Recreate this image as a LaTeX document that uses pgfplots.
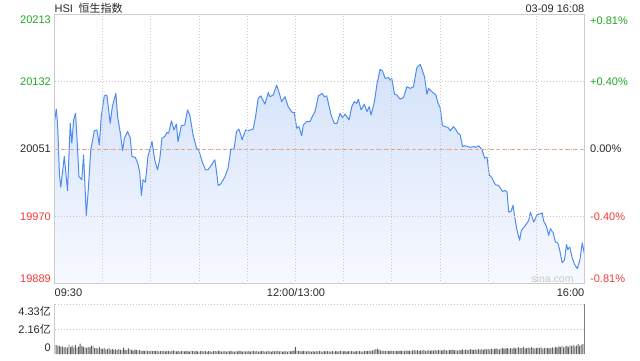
\documentclass[border=0pt]{standalone}
\usepackage{pgfplots}
\usepackage{pgfplotstable}
\pgfplotsset{compat=1.18}
\usepackage{fontspec}
\setmainfont{Liberation Sans}
\newfontfamily\cjk{Noto Sans CJK SC}
\definecolor{framec}{RGB}{204,204,204}
\definecolor{gridc}{RGB}{200,200,200}
\definecolor{linec}{RGB}{78,140,240}
\definecolor{prevc}{RGB}{236,150,105}
\definecolor{upc}{RGB}{34,168,34}
\definecolor{downc}{RGB}{240,58,58}
\definecolor{txtc}{RGB}{40,40,40}
\definecolor{volc}{RGB}{95,95,95}
\definecolor{areatop}{RGB}{212,226,250}
\definecolor{areabot}{RGB}{247,249,255}
\pgfplotstableread{
m v
0 20084
1.1 20099
1.9 20082
3.1 20020
3.9 20005
6.1 20042
8.1 20001
9.8 20082
10.8 20058
11.9 20086
13.1 20094
14.3 20054
15.2 20018
17.0 20014
18.1 20044
19.8 19971
21.0 20001
22.6 20050
24.8 20073
26.4 20074
27.9 20056
29.1 20090
31.0 20115
32.6 20116
34.7 20082
36.0 20102
38.2 20118
39.3 20090
41.0 20070
42.4 20049
43.5 20064
45.5 20072
47.2 20064
48.2 20042
50.3 20041
51.8 20034
53.0 20024
54.1 19995
55.1 20014
56.6 20011
58.2 20042
60.7 20060
62.4 20038
64.1 20026
65.5 20038
66.9 20064
68.6 20066
70.1 20071
71.1 20070
72.8 20085
74.4 20074
75.9 20081
76.9 20060
79.0 20079
81.1 20080
82.8 20098
84.2 20092
86.3 20068
88.4 20052
89.8 20050
91.9 20036
94.0 20026
95.6 20026
97.8 20032
99.8 20038
100.6 20028
101.9 20007
103.5 20009
106.0 20017
108.1 20028
109.8 20051
111.8 20051
113.3 20072
114.8 20075
116.0 20068
116.8 20062
119.0 20074
120.6 20073
123.7 20075
125.2 20090
126.8 20112
128.5 20115
131.0 20105
133.1 20119
134.1 20114
136.2 20116
138.3 20128
139.7 20120
141.4 20108
143.5 20114
145.5 20102
148.0 20095
149.3 20095
150.8 20076
152.2 20078
153.9 20067
154.9 20080
157.0 20084
159.1 20084
160.5 20090
162.2 20096
164.3 20115
166.7 20118
168.0 20114
169.5 20115
172.2 20092
174.2 20082
175.9 20082
177.8 20094
179.2 20089
180.9 20093
183.4 20086
185.1 20102
186.7 20108
188.2 20106
189.2 20111
190.9 20098
192.9 20105
194.6 20096
195.9 20102
197.1 20092
199.2 20108
200.7 20128
202.7 20147
204.2 20145
205.9 20136
207.9 20137
209.0 20134
210.0 20136
211.7 20117
213.2 20116
215.2 20111
217.3 20113
219.4 20126
221.5 20124
223.5 20126
225.6 20149
227.7 20153
230.4 20138
231.9 20117
232.9 20124
235.0 20120
237.5 20116
238.7 20107
240.2 20100
241.6 20079
243.3 20078
245.0 20077
246.4 20073
248.5 20078
250.0 20074
251.2 20070
252.6 20068
254.1 20054
255.3 20055
257.4 20054
258.9 20053
260.9 20054
262.4 20053
264.1 20055
266.2 20050
267.8 20040
269.3 20041
270.7 20020
272.4 20016
274.5 20008
276.5 20007
279.0 20000
280.7 20001
281.8 19999
282.8 19975
284.3 19976
285.5 19983
286.9 19965
288.0 19953
289.6 19941
290.7 19953
293.2 19959
295.3 19965
296.3 19975
298.4 19963
300.5 19972
302.5 19973
303.6 19974
304.6 19964
306.3 19958
307.7 19947
308.8 19955
310.5 19950
311.9 19939
313.4 19938
314.6 19929
316.1 19914
317.5 19917
318.8 19936
319.6 19930
320.8 19933
322.3 19920
323.8 19912
325.5 19907
327.1 19917
328.6 19938
330 19924
}\pricedata
\pgfplotstableread{
m v
0 19889
}\areadata
\pgfplotstableread{
m v
330 19889
}\areaend
\pgfplotstablevertcat{\areadata}{\pricedata}
\pgfplotstablevertcat{\areadata}{\areaend}
\begin{document}
\begin{tikzpicture}[lab/.style={inner sep=0pt, font=\fontsize{11}{13}\selectfont}]
\useasboundingbox (0pt,0pt) rectangle (640pt,360pt);
\begin{axis}[
  at={(54.5pt,76.5pt)}, anchor=south west, scale only axis,
  width=530pt, height=269pt,
  xmin=0, xmax=330, ymin=19889, ymax=20213,
  xtick={0,30,...,330}, ytick={19889,19970,20051,20132,20213},
  xticklabels={}, yticklabels={}, major tick length=0pt,
  scaled x ticks=false, scaled y ticks=false,
  grid=major, grid style={gridc, dash pattern=on 1pt off 2pt, line width=0.8pt},
  axis line style={framec, line width=0.8pt},
  axis on top,
]
\addplot[top color=areatop, bottom color=areabot, draw=none] table[x=m, y=v] {\areadata};
\addplot[prevc, dash pattern=on 4pt off 3pt, line width=0.9pt] coordinates {(0,20051) (330,20051)};
\addplot[linec, line width=1pt, line join=round] table[x=m, y=v] {\pricedata};
\end{axis}
\begin{axis}[
  at={(54.5pt,6pt)}, anchor=south west, scale only axis,
  width=530pt, height=50pt,
  xmin=0, xmax=330, ymin=0, ymax=4.33,
  xtick=\empty, ytick=\empty, axis line style={draw=none},
  scaled x ticks=false, scaled y ticks=false,
  enlargelimits=false, clip=false,
]
\addplot[gridc, dash pattern=on 1pt off 2pt, line width=0.8pt] coordinates {(0,4.33) (330,4.33)};
\addplot[gridc, dash pattern=on 1pt off 2pt, line width=0.8pt] coordinates {(0,2.16) (330,2.16)};
\addplot[ybar, bar width=0.9pt, bar shift=0pt, fill=volc, draw=none] coordinates {
(0,2.50) (1,0.78) (2,0.72) (3,0.70) (4,0.62) (5,0.66) (6,0.58) (7,0.60) (8,0.55) (9,0.82)
(10,0.60) (11,0.72) (12,0.58) (13,0.78) (14,0.56) (15,0.64) (16,0.90) (17,0.70) (18,0.62) (19,0.58)
(20,0.55) (21,0.62) (22,0.58) (23,0.72) (24,0.68) (25,0.52) (26,0.50) (27,0.48) (28,0.60) (29,0.46)
(30,0.44) (31,0.52) (32,0.40) (33,0.42) (34,0.48) (35,0.38) (36,0.45) (37,0.36) (38,0.40) (39,0.35)
(40,0.42) (41,0.38) (42,0.34) (43,0.55) (44,0.36) (45,0.33) (46,0.48) (47,0.40) (48,0.35) (49,0.30)
(50,0.38) (51,0.33) (52,0.30) (53,0.36) (54,0.28) (55,0.30) (56,0.26) (57,0.32) (58,0.28) (59,0.25)
(60,0.30) (61,0.26) (62,0.24) (63,0.28) (64,0.30) (65,0.22) (66,0.26) (67,0.24) (68,0.30) (69,0.22)
(70,0.25) (71,0.28) (72,0.22) (73,0.24) (74,0.32) (75,0.26) (76,0.22) (77,0.25) (78,0.20) (79,0.24)
(80,0.28) (81,0.22) (82,0.26) (83,0.24) (84,0.21) (85,0.30) (86,0.25) (87,0.22) (88,0.27) (89,0.23)
(90,0.20) (91,0.24) (92,0.26) (93,0.22) (94,0.28) (95,0.21) (96,0.25) (97,0.23) (98,0.20) (99,0.26)
(100,0.24) (101,0.22) (102,0.30) (103,0.25) (104,0.21) (105,0.23) (106,0.26) (107,0.20) (108,0.24) (109,0.22)
(110,0.27) (111,0.23) (112,0.20) (113,0.25) (114,0.22) (115,0.28) (116,0.24) (117,0.21) (118,0.26) (119,0.23)
(120,0.22) (121,0.25) (122,0.20) (123,0.24) (124,0.27) (125,0.22) (126,0.25) (127,0.21) (128,0.23) (129,0.26)
(130,0.24) (131,0.20) (132,0.22) (133,0.28) (134,0.23) (135,0.21) (136,0.25) (137,0.22) (138,0.24) (139,0.27)
(140,0.22) (141,0.25) (142,0.20) (143,0.23) (144,0.26) (145,0.21) (146,0.24) (147,0.22) (148,0.28) (149,0.30)
(150,0.62) (151,0.30) (152,0.26) (153,0.24) (154,0.22) (155,0.28) (156,0.25) (157,0.22) (158,0.26) (159,0.23)
(160,0.21) (161,0.24) (162,0.20) (163,0.25) (164,0.22) (165,0.27) (166,0.23) (167,0.21) (168,0.24) (169,0.22)
(170,0.26) (171,0.22) (172,0.20) (173,0.24) (174,0.21) (175,0.25) (176,0.23) (177,0.22) (178,0.27) (179,0.24)
(180,0.22) (181,0.25) (182,0.21) (183,0.24) (184,0.22) (185,0.26) (186,0.23) (187,0.20) (188,0.24) (189,0.22)
(190,0.25) (191,0.23) (192,0.21) (193,0.24) (194,0.28) (195,0.26) (196,0.30) (197,0.27) (198,0.32) (199,0.35)
(200,0.42) (201,0.45) (202,0.38) (203,0.32) (204,0.28) (205,0.30) (206,0.26) (207,0.28) (208,0.25) (209,0.27)
(210,0.30) (211,0.26) (212,0.24) (213,0.28) (214,0.25) (215,0.27) (216,0.30) (217,0.26) (218,0.28) (219,0.32)
(220,0.28) (221,0.30) (222,0.26) (223,0.32) (224,0.35) (225,0.30) (226,0.34) (227,0.28) (228,0.32) (229,0.30)
(230,0.33) (231,0.28) (232,0.30) (233,0.35) (234,0.29) (235,0.32) (236,0.30) (237,0.36) (238,0.30) (239,0.33)
(240,0.36) (241,0.30) (242,0.34) (243,0.38) (244,0.32) (245,0.30) (246,0.35) (247,0.33) (248,0.38) (249,0.31)
(250,0.34) (251,0.30) (252,0.36) (253,0.32) (254,0.40) (255,0.34) (256,0.38) (257,0.33) (258,0.36) (259,0.42)
(260,0.38) (261,0.35) (262,0.40) (263,0.36) (264,0.44) (265,0.38) (266,0.42) (267,0.36) (268,0.45) (269,0.40)
(270,0.42) (271,0.38) (272,0.46) (273,0.40) (274,0.44) (275,0.48) (276,0.42) (277,0.40) (278,0.46) (279,0.50)
(280,0.44) (281,0.48) (282,0.52) (283,0.45) (284,0.50) (285,0.46) (286,0.55) (287,0.48) (288,0.52) (289,0.58)
(290,0.50) (291,0.54) (292,0.62) (293,0.48) (294,0.52) (295,0.56) (296,0.50) (297,0.60) (298,0.54) (299,0.48)
(300,0.52) (301,0.56) (302,0.50) (303,0.58) (304,0.46) (305,0.52) (306,0.55) (307,0.50) (308,0.48) (309,0.54)
(310,0.58) (311,0.52) (312,0.62) (313,0.56) (314,0.66) (315,0.60) (316,0.72) (317,0.58) (318,0.65) (319,0.70)
(320,0.62) (321,0.75) (322,0.68) (323,0.80) (324,0.66) (325,0.72) (326,0.88) (327,0.70) (328,0.78) (329,0.85)
(330,0.82)
};
\addplot[framec, line width=0.8pt] coordinates {(0,0) (0,4.33)};
\addplot[black!50, line width=0.8pt] coordinates {(330,0) (330,4.33)};
\end{axis}
% labels
\node[lab, anchor=base west, text=txtc] at (54.5pt,347.8pt) {HSI};
\node[lab, anchor=base west, text=txtc] at (78.3pt,347.8pt) {\cjk 恒生指数};
\node[lab, anchor=base east, text=txtc] at (584.5pt,348pt) {03-09 16:08};
\node[lab, anchor=base east, text=upc] at (51pt,336.1pt) {20213};
\node[lab, anchor=base east, text=upc] at (51pt,274.4pt) {20132};
\node[lab, anchor=base east, text=txtc] at (51pt,207.1pt) {20051};
\node[lab, anchor=base east, text=downc] at (51pt,139.6pt) {19970};
\node[lab, anchor=base east, text=downc] at (51pt,77.7pt) {19889};
\node[lab, anchor=base west, text=upc] at (590pt,335.5pt) {+0.81\%};
\node[lab, anchor=base west, text=upc] at (590pt,274.2pt) {+0.40\%};
\node[lab, anchor=base west, text=txtc] at (590pt,207.1pt) {0.00\%};
\node[lab, anchor=base west, text=downc] at (590pt,139.6pt) {-0.40\%};
\node[lab, anchor=base west, text=downc] at (590pt,77.5pt) {-0.81\%};
\node[lab, anchor=base west, text=txtc] at (54.5pt,63.4pt) {09:30};
\node[lab, anchor=base, text=txtc] at (296pt,63.4pt) {12:00/13:00};
\node[lab, anchor=base east, text=txtc] at (584.5pt,63.4pt) {16:00};
\node[lab, anchor=base, text=gridc, font=\fontsize{10.5}{12}\selectfont] at (552.5pt,77.5pt) {sina.com};
\node[lab, anchor=base east, text=txtc] at (51pt,45pt) {4.33{\cjk 亿}};
\node[lab, anchor=base east, text=txtc] at (51pt,26.3pt) {2.16{\cjk 亿}};
\node[lab, anchor=base east, text=txtc] at (51pt,8.3pt) {0};
\end{tikzpicture}
\end{document}
